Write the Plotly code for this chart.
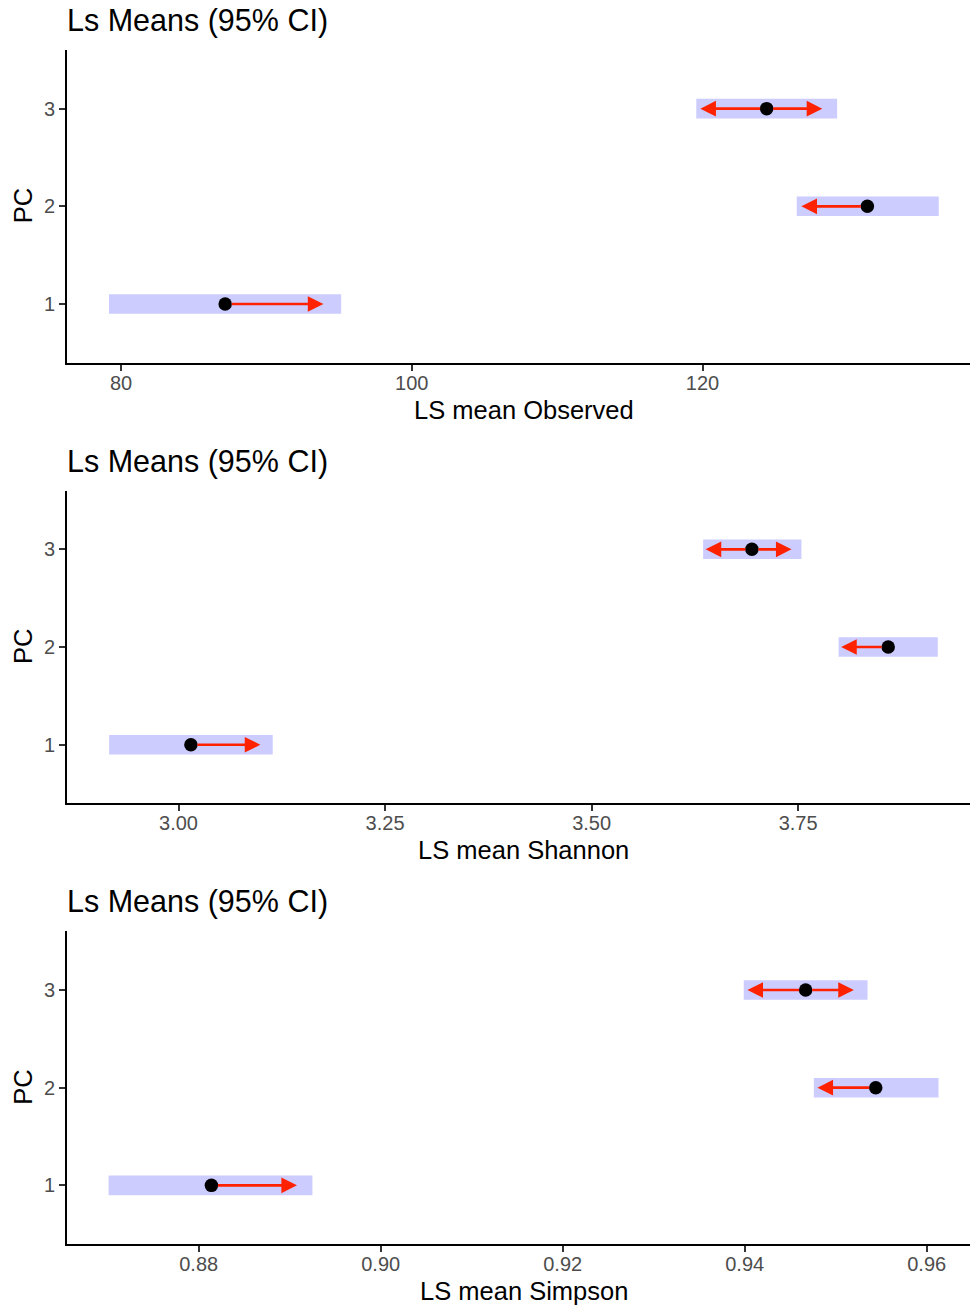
import plotly.graph_objects as go

# ---------------- data ----------------
pc_levels = [1, 2, 3]
pc_labels = ["1", "2", "3"]

obs_mean = [87.16, 131.34, 124.41]
obs_lcl = [79.17, 126.48, 119.57]
obs_ucl = [95.14, 136.25, 129.26]
obs_arrow_left = [None, 126.80, 119.85]
obs_arrow_right = [93.92, None, 128.24]
obs_ticks = [80, 100, 120]
obs_ticklabels = ["80", "100", "120"]

sha_mean = [3.015, 3.859, 3.694]
sha_lcl = [2.916, 3.799, 3.635]
sha_ucl = [3.114, 3.919, 3.754]
sha_arrow_left = [None, 3.802, 3.638]
sha_arrow_right = [3.099, None, 3.742]
sha_ticks = [3.00, 3.25, 3.50, 3.75]
sha_ticklabels = ["3.00", "3.25", "3.50", "3.75"]

sim_mean = [0.8814, 0.9544, 0.9467]
sim_lcl = [0.8701, 0.9476, 0.9399]
sim_ucl = [0.8925, 0.9613, 0.9535]
sim_arrow_left = [None, 0.9480, 0.9403]
sim_arrow_right = [0.8908, None, 0.9520]
sim_ticks = [0.88, 0.90, 0.92, 0.94, 0.96]
sim_ticklabels = ["0.88", "0.90", "0.92", "0.94", "0.96"]

title_text = "Ls Means (95% CI)"
y_title = "PC"

panels = [
    dict(label="LS mean Observed", mean=obs_mean, lcl=obs_lcl, ucl=obs_ucl,
         left=obs_arrow_left, right=obs_arrow_right, ticks=obs_ticks, ticklabels=obs_ticklabels),
    dict(label="LS mean Shannon", mean=sha_mean, lcl=sha_lcl, ucl=sha_ucl,
         left=sha_arrow_left, right=sha_arrow_right, ticks=sha_ticks, ticklabels=sha_ticklabels),
    dict(label="LS mean Simpson", mean=sim_mean, lcl=sim_lcl, ucl=sim_ucl,
         left=sim_arrow_left, right=sim_arrow_right, ticks=sim_ticks, ticklabels=sim_ticklabels),
]

# ---------------- layout constants ----------------
W, H = 970, 1307
x_ranges = [[76.28, 138.4], [2.865, 3.958], [0.86553, 0.96476]]
plot_left_px = 67
panel_tops_px = [50, 490.7, 931.3]
panel_height_px = 312.7

FONT = "Liberation Sans, Arial, Helvetica, sans-serif"
CI_COLOR = "#CCCCFF"
ARROW_COLOR = "#FF2200"

fig = go.Figure()
annotations = []
layout_axes = {}

for i, p in enumerate(panels):
    n = i + 1
    xa = "x" if n == 1 else f"x{n}"
    ya = "y" if n == 1 else f"y{n}"
    xkey = "xaxis" if n == 1 else f"xaxis{n}"
    ykey = "yaxis" if n == 1 else f"yaxis{n}"

    # CI bars
    fig.add_trace(go.Bar(
        y=pc_levels,
        x=[u - l for l, u in zip(p["lcl"], p["ucl"])],
        base=p["lcl"],
        orientation="h",
        width=0.2,
        marker=dict(color=CI_COLOR, line=dict(width=0)),
        xaxis=xa, yaxis=ya, hoverinfo="skip",
    ))

    # comparison arrows
    for yv, m, lft, rgt in zip(pc_levels, p["mean"], p["left"], p["right"]):
        for tip in (lft, rgt):
            if tip is None:
                continue
            annotations.append(dict(
                x=tip, y=yv, ax=m, ay=yv,
                xref=xa, yref=ya, axref=xa, ayref=ya,
                text="", showarrow=True,
                arrowhead=2, arrowsize=1.2, arrowwidth=2.6,
                arrowcolor=ARROW_COLOR, startstandoff=5, standoff=0,
            ))

    # means
    fig.add_trace(go.Scatter(
        x=p["mean"], y=pc_levels, mode="markers",
        marker=dict(color="black", size=13.5, line=dict(width=0)),
        xaxis=xa, yaxis=ya, hoverinfo="skip",
    ))

    top = panel_tops_px[i]
    bottom = top + panel_height_px
    dom_y = [1 - bottom / H, 1 - top / H]

    layout_axes[xkey] = dict(
        domain=[plot_left_px / W, 1], range=x_ranges[i], anchor=ya,
        tickvals=p["ticks"], ticktext=p["ticklabels"],
        showline=True, linecolor="black", linewidth=1.8,
        ticks="outside", ticklen=6, tickwidth=1.5, tickcolor="#333333",
        ticklabelstandoff=-5,
        tickfont=dict(family=FONT, size=20, color="#4D4D4D"),
        showgrid=False, zeroline=False, fixedrange=True,
    )
    layout_axes[ykey] = dict(
        domain=dom_y, range=[0.4, 3.6], anchor=xa,
        tickvals=pc_levels, ticktext=pc_labels,
        showline=True, linecolor="black", linewidth=1.8,
        ticks="outside", ticklen=6, tickwidth=1.5, tickcolor="#333333",
        tickfont=dict(family=FONT, size=20, color="#4D4D4D"),
        showgrid=False, zeroline=False, fixedrange=True,
    )

    # panel title
    annotations.append(dict(
        text=title_text, showarrow=False,
        xref="paper", x=65 / W, xanchor="left",
        yref=f"{ya} domain", y=1, yanchor="bottom", yshift=10,
        font=dict(family=FONT, size=30.5, color="black"),
    ))
    # x axis title
    annotations.append(dict(
        text=p["label"], showarrow=False,
        xref=f"{xa} domain", x=0.5, xanchor="center", xshift=5,
        yref=f"{ya} domain", y=0, yanchor="top", yshift=-31,
        font=dict(family=FONT, size=25.5, color="black"),
    ))
    # y axis title
    annotations.append(dict(
        text=y_title, showarrow=False, textangle=-90,
        xref="paper", x=23 / W, xanchor="center",
        yref=f"{ya} domain", y=0.5, yanchor="middle",
        font=dict(family=FONT, size=25.5, color="black"),
    ))

fig.update_layout(
    width=W, height=H,
    margin=dict(l=0, r=0, t=0, b=0),
    paper_bgcolor="white", plot_bgcolor="white",
    showlegend=False, barmode="overlay",
    annotations=annotations,
    **layout_axes,
)

fig.write_html(
    "out.html",
    config={"displayModeBar": False},
    post_script="document.body.style.margin='0px';document.body.style.overflow='hidden';",
)
